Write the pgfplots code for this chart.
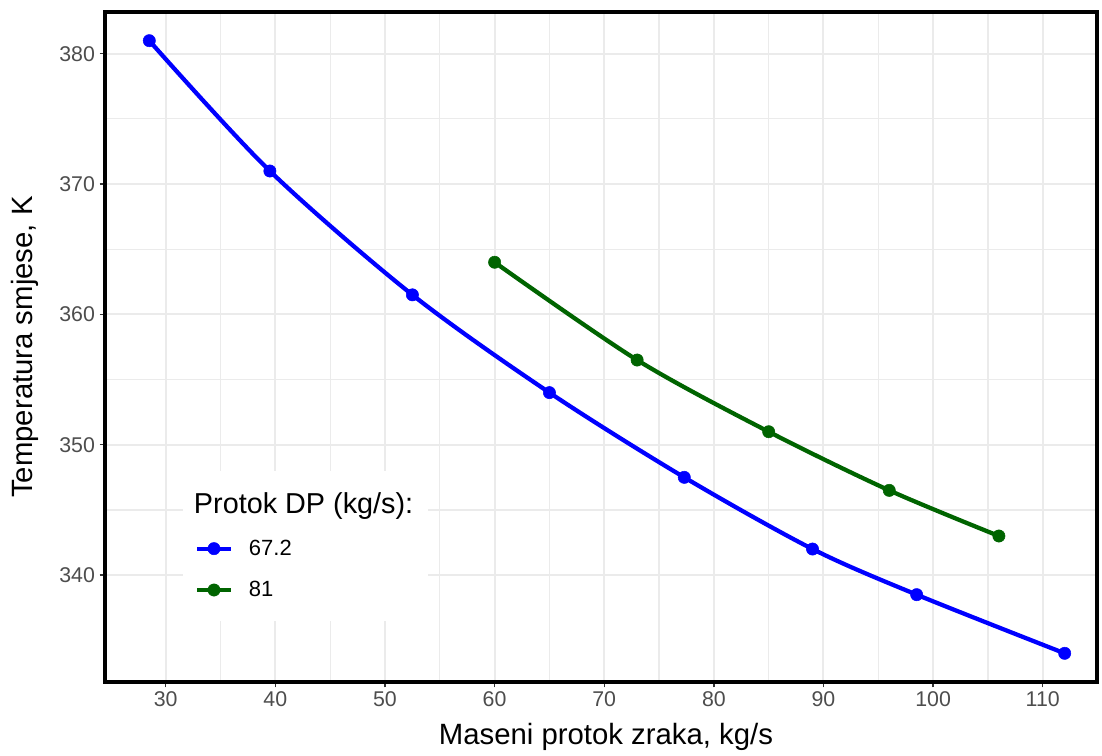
\documentclass[border=0pt]{standalone}
\usepackage{fontspec}
\setmainfont{Liberation Sans}
\usepackage{pgfplots}
\pgfplotsset{compat=1.18}
\definecolor{gridgray}{HTML}{EBEBEB}
\definecolor{tickgray}{HTML}{4D4D4D}
\definecolor{tickline}{HTML}{333333}
\definecolor{lineblue}{HTML}{0000FF}
\definecolor{linegreen}{HTML}{006400}

\begin{document}
\begin{tikzpicture}
\begin{axis}[
    scale only axis,
    width=744pt, height=502.5pt,
    xmin=24.46, xmax=114.95,
    ymin=331.8, ymax=383.2,
    xtick={30,40,...,110},
    ytick={340,350,...,380},
    minor x tick num=1, minor y tick num=1,
    grid=both,
    major grid style={gridgray, line width=1.5pt},
    minor grid style={gridgray, line width=0.9pt},
    axis line style={black, line width=3pt},
    tick align=outside,
    major tick length=4pt,
    minor tick length=0pt,
    tick style={tickline, line width=1.1pt},
    xtick pos=left, ytick pos=left,
    tick label style={font=\fontsize{16}{19}\selectfont, text=tickgray},
    /pgf/number format/assume math mode=true,
    xlabel={Maseni protok zraka, kg/s},
    ylabel={Temperatura smjese, K},
    label style={font=\fontsize{22}{26}\selectfont},
    xlabel style={at={(axis description cs:0.505,-0.0940)}, anchor=base},
    ylabel style={at={(axis description cs:-0.0726,0.5)}, anchor=base},
    legend image code/.code={\draw[mark repeat=2,mark phase=2] plot coordinates {(0pt,0pt) (12.4pt,0pt) (24.8pt,0pt)};},
    legend cell align=left,
    legend style={at={(axis cs:31.58,348.0)}, anchor=north west,
        fill=white, draw=none, inner xsep=9pt, inner ysep=14.5pt,
        row sep=14pt, column sep=10.25pt,
        font=\fontsize{16.5}{19}\selectfont},
]
\addlegendimage{empty legend}
\addlegendentry{\hspace*{-41.25pt}\fontsize{21.6}{26}\selectfont Protok DP (kg/s):}

% DP = 67.2 kg/s
\addplot[lineblue, line width=3.2pt, smooth, mark=*, mark size=4.6pt, mark options={line width=0.4pt}] coordinates {
    (28.5,381) (39.5,371) (52.5,361.5) (65,354) (77.3,347.5) (89,342) (98.5,338.5) (112,334)
};
\addlegendentry{67.2}

% DP = 81 kg/s
\addplot[linegreen, line width=3.2pt, smooth, mark=*, mark size=4.6pt, mark options={line width=0.4pt}] coordinates {
    (60,364) (73,356.5) (85,351) (96,346.5) (106,343)
};
\addlegendentry{81}
\end{axis}
\path (current axis.south west) ++(-78.75pt,-55.5pt) coordinate (bl);
\path (current axis.north east) ++(3.75pt,9pt) coordinate (tr);
\pgfresetboundingbox
\path (bl) rectangle (tr);
\end{tikzpicture}
\end{document}
